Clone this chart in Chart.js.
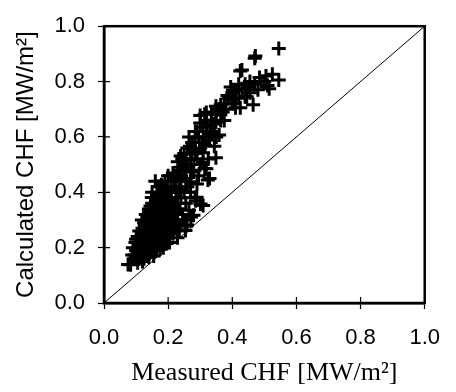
<!DOCTYPE html>
<html>
<head>
<meta charset="utf-8">
<script src="https://cdn.jsdelivr.net/npm/chart.js@4.4.1/dist/chart.umd.min.js"></script>
<style>
html,body{margin:0;padding:0;background:#fff;}
#wrap{width:456px;height:392px;position:relative;}
</style>
</head>
<body>
<div id="wrap"><canvas id="c" width="456" height="392"></canvas></div>
<script>
const measured = [0.545,0.470,0.472,0.425,0.430,0.545,0.525,0.505,0.485,0.490,
0.510,0.515,0.470,0.465,0.445,0.452,0.430,0.410,0.400,0.410,
0.425,0.400,0.440,0.455,0.390,0.375,0.364,0.349,0.370,0.375,
0.364,0.314,0.319,0.300,0.344,0.349,0.359,0.329,0.309,0.284,
0.290,0.330,0.344,0.349,0.309,0.319,0.329,0.309,0.324,0.314,
0.274,0.268,0.239,0.244,0.234,0.279,0.269,0.249,0.284,0.289,
0.309,0.279,0.259,0.229,0.204,0.254,0.300,0.295,0.310,0.320,
0.335,0.285,0.290,0.300,0.260,0.270,0.255,0.260,0.240,0.250,
0.270,0.240,0.255,0.235,0.245,0.230,0.250,0.265,0.220,0.235,
0.169,0.179,0.179,0.149,0.155,0.118,0.098,0.088,0.083,0.118,
0.128,0.100,0.110,0.130,0.140,0.150,0.160,0.190,0.200,0.210,
0.220,0.225,0.210,0.195,0.180,0.170,0.165,0.185,0.200,0.215,
0.200,0.185,0.170,0.155,0.145,0.135,0.150,0.165,0.180,0.195,
0.210,0.215,0.200,0.185,0.170,0.160,0.145,0.130,0.120,0.110,
0.125,0.140,0.155,0.170,0.185,0.195,0.175,0.160,0.145,0.130,
0.115,0.100,0.095,0.110,0.125,0.140,0.155,0.105,0.120,0.090,
0.105,0.120,0.125,0.135,0.140,0.150,0.160,0.175,0.160,0.175,
0.190,0.205,0.220,0.230,0.225,0.235,0.190,0.205,0.225,0.190,
0.175,0.160,0.140,0.115,0.130,0.150,0.180,0.200,0.165,0.185,
0.135,0.100,0.145,0.170,0.150,0.140,0.180,0.210,0.200,0.215,
0.225,0.240,0.230,0.250,0.260,0.275,0.265,0.285,0.300,0.320,
0.335,0.350,0.360,0.380,0.385,0.395,0.420,0.440,0.455,0.500,
0.480,0.420,0.405,0.340,0.350,0.315,0.325,0.295,0.290,0.280,0.305,0.270,
0.271,0.301,0.286,0.256,0.231,0.075,0.095,
0.120,0.130,0.140,0.150,0.160,0.170,0.180,0.190,0.200,0.210,
0.220,0.130,0.140,0.160,0.180,0.190,0.210,0.220,0.170,0.150,
0.110,0.120,0.105,0.160,0.175,0.195,0.145,0.165,0.185,0.205,
0.240,0.255,0.270];

const calculated = [0.919,0.884,0.892,0.838,0.842,0.806,0.826,0.820,0.815,0.800,
0.786,0.774,0.790,0.716,0.745,0.780,0.774,0.768,0.760,0.705,
0.705,0.734,0.745,0.760,0.740,0.720,0.716,0.711,0.690,0.659,
0.659,0.682,0.688,0.677,0.647,0.653,0.607,0.589,0.635,0.595,
0.620,0.640,0.566,0.525,0.543,0.485,0.450,0.508,0.444,0.486,
0.537,0.566,0.531,0.520,0.479,0.473,0.438,0.486,0.381,0.382,
0.352,0.317,0.282,0.236,0.219,0.262,0.560,0.600,0.600,0.620,
0.610,0.550,0.520,0.500,0.500,0.480,0.450,0.420,0.440,0.400,
0.400,0.380,0.360,0.340,0.320,0.300,0.300,0.335,0.270,0.260,
0.421,0.421,0.427,0.381,0.352,0.300,0.219,0.173,0.138,0.173,
0.196,0.230,0.260,0.320,0.340,0.400,0.440,0.440,0.420,0.400,
0.420,0.380,0.360,0.380,0.390,0.370,0.340,0.350,0.340,0.320,
0.300,0.310,0.310,0.300,0.280,0.270,0.260,0.280,0.280,0.270,
0.280,0.250,0.240,0.250,0.250,0.230,0.240,0.240,0.220,0.200,
0.200,0.210,0.210,0.215,0.220,0.215,0.195,0.190,0.185,0.180,
0.180,0.190,0.160,0.160,0.160,0.165,0.170,0.145,0.150,0.200,
0.240,0.270,0.290,0.300,0.310,0.330,0.320,0.330,0.360,0.400,
0.410,0.380,0.350,0.360,0.400,0.410,0.330,0.310,0.290,0.290,
0.300,0.270,0.255,0.235,0.215,0.225,0.235,0.260,0.200,0.200,
0.195,0.170,0.200,0.350,0.360,0.330,0.370,0.440,0.460,0.470,
0.450,0.490,0.510,0.540,0.560,0.580,0.600,0.620,0.650,0.660,
0.690,0.680,0.700,0.700,0.750,0.780,0.790,0.790,0.800,0.800,
0.770,0.740,0.720,0.620,0.600,0.570,0.520,0.460,0.430,0.500,0.580,0.520,
0.311,0.358,0.369,0.277,0.265,0.139,0.173,
0.250,0.260,0.290,0.310,0.300,0.320,0.340,0.360,0.370,0.350,
0.330,0.230,0.220,0.250,0.260,0.250,0.260,0.300,0.290,0.270,
0.210,0.190,0.185,0.210,0.225,0.235,0.350,0.390,0.420,0.400,
0.460,0.500,0.540];

const diagX = [0, 1];
const diagY = [0, 1];
const tickValues = [0, 0.2, 0.4, 0.6, 0.8, 1.0];
const xTitle = 'Measured CHF [MW/m²]';
const yTitle = 'Calculated CHF [MW/m²]';

const points = measured.map((x, i) => ({x: x, y: calculated[i]}));
const diag = diagX.map((x, i) => ({x: x, y: diagY[i]}));

const frame = {
  id: 'frame',
  afterDraw(chart) {
    const {ctx, chartArea: a, scales} = chart;
    ctx.save();
    ctx.strokeStyle = '#000';
    ctx.lineWidth = 1.2;
    ctx.beginPath();
    tickValues.forEach(v => {
      const px = scales.x.getPixelForValue(v);
      ctx.moveTo(px, a.bottom); ctx.lineTo(px, a.bottom - 6);
      const py = scales.y.getPixelForValue(v);
      ctx.moveTo(a.left, py); ctx.lineTo(a.left + 6, py);
    });
    ctx.stroke();
    ctx.lineWidth = 2.5;
    ctx.strokeRect(a.left, a.top, a.right - a.left, a.bottom - a.top);
    ctx.restore();
  }
};

new Chart(document.getElementById('c'), {
  type: 'scatter',
  data: {
    datasets: [
      {
        type: 'line',
        data: diag,
        borderColor: '#000',
        borderWidth: 1,
        pointRadius: 0,
        fill: false,
        order: 2
      },
      {
        data: points,
        pointStyle: 'cross',
        pointRadius: 7,
        pointHoverRadius: 7,
        borderColor: '#000',
        backgroundColor: '#000',
        pointBorderWidth: 3,
        borderWidth: 3,
        order: 1
      }
    ]
  },
  options: {
    responsive: false,
    animation: false,
    events: [],
    layout: {padding: {top: 15, right: 20, left: 0, bottom: 0}},
    plugins: {legend: {display: false}, tooltip: {enabled: false}},
    scales: {
      x: {
        type: 'linear', min: 0, max: 1,
        afterFit(s) { s.height = 89; },
        afterBuildTicks(s) { s.ticks = tickValues.map(v => ({value: v})); },
        ticks: {
          callback: v => v.toFixed(1),
          color: '#000',
          padding: 16,
          maxRotation: 0,
          font: {family: '"Liberation Sans", Arial, sans-serif', size: 22}
        },
        grid: {drawOnChartArea: false, drawTicks: true, tickLength: 6, color: '#000', tickWidth: 1.2},
        border: {display: true, color: '#000', width: 2.5},
        title: {
          display: true, text: xTitle, color: '#000',
          font: {family: '"Liberation Serif", "Times New Roman", serif', size: 26},
          padding: {top: 0, bottom: 3}
        }
      },
      y: {
        type: 'linear', min: 0, max: 1,
        afterFit(s) { s.width = 104; },
        afterBuildTicks(s) { s.ticks = tickValues.map(v => ({value: v})); },
        ticks: {
          callback: v => v.toFixed(1),
          color: '#000',
          padding: 13,
          font: {family: '"Liberation Sans", Arial, sans-serif', size: 22}
        },
        grid: {drawOnChartArea: false, drawTicks: true, tickLength: 6, color: '#000', tickWidth: 1.2},
        border: {display: true, color: '#000', width: 2.5},
        title: {
          display: true, text: yTitle, color: '#000',
          font: {family: '"Liberation Sans", Arial, sans-serif', size: 24},
          padding: {top: 12, bottom: 0}
        }
      }
    }
  },
  plugins: [frame]
});
</script>
</body>
</html>
